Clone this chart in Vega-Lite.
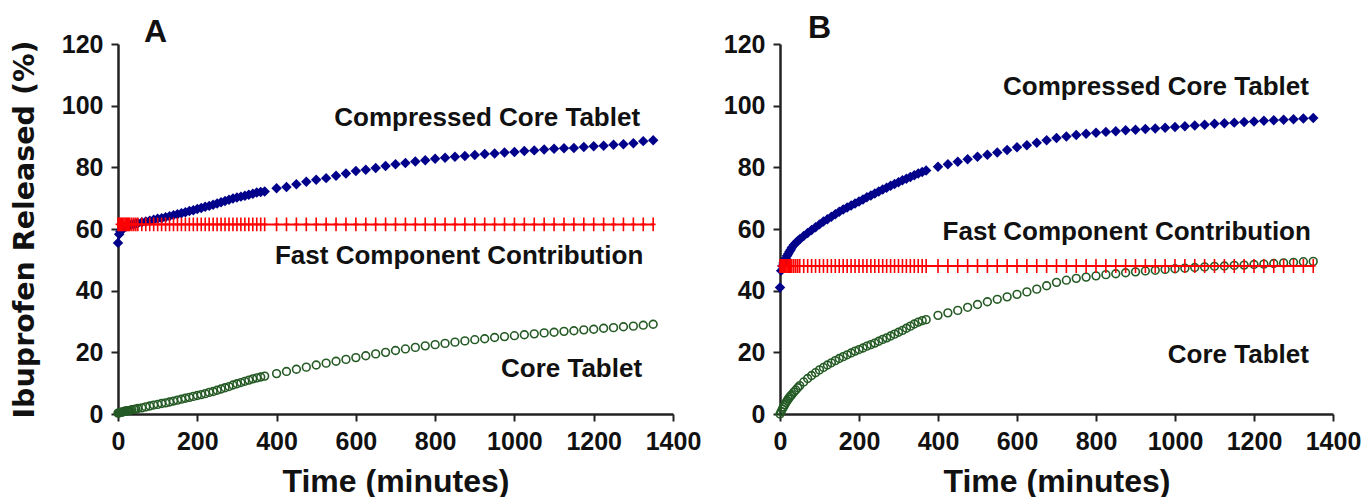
{
 "$schema": "https://vega.github.io/schema/vega-lite/v6.json",
 "autosize": {"type": "pad"},
 "padding": {"left": 10, "top": 12, "right": 5, "bottom": 0},
 "background": "white",
 "config": {
  "view": {"stroke": null},
  "axis": {"labelFont": "Liberation Sans", "labelFontWeight": "bold", "labelFontSize": 25, "labelColor": "#111", "titleFont": "Liberation Sans", "titleFontWeight": "bold", "titleColor": "#111", "domainColor": "#222", "domainWidth": 2.5, "tickColor": "#222", "tickWidth": 2, "tickSize": 7, "labelPadding": 8, "grid": false, "labelFlush": false, "labelOverlap": false, "format": "d"},
  "text": {"font": "Liberation Sans", "fontWeight": "bold", "fontSize": 26, "color": "#111"}
 },
 "datasets": {
  "one": [{"k": 1}],
  "acc": [{"t":0,"v":55.5},{"t":3,"v":58.3},{"t":6,"v":59.2},{"t":9,"v":59.8},{"t":12,"v":60.2},{"t":15,"v":60.5},{"t":18,"v":60.7},{"t":21,"v":60.9},{"t":24,"v":61.0},{"t":27,"v":61.1},{"t":30,"v":61.3},{"t":35,"v":61.5},{"t":40,"v":61.6},{"t":45,"v":61.8},{"t":50,"v":61.9},{"t":60,"v":62.2},{"t":70,"v":62.4},{"t":80,"v":62.7},{"t":90,"v":63.0},{"t":100,"v":63.3},{"t":110,"v":63.5},{"t":120,"v":63.8},{"t":130,"v":64.1},{"t":140,"v":64.5},{"t":150,"v":64.8},{"t":160,"v":65.1},{"t":170,"v":65.4},{"t":180,"v":65.8},{"t":190,"v":66.1},{"t":200,"v":66.5},{"t":210,"v":66.8},{"t":220,"v":67.2},{"t":230,"v":67.5},{"t":240,"v":67.9},{"t":250,"v":68.3},{"t":260,"v":68.7},{"t":270,"v":69.1},{"t":280,"v":69.5},{"t":290,"v":69.9},{"t":300,"v":70.2},{"t":310,"v":70.5},{"t":320,"v":70.8},{"t":330,"v":71.1},{"t":340,"v":71.4},{"t":350,"v":71.8},{"t":360,"v":72.0},{"t":370,"v":72.2},{"t":400,"v":73.2},{"t":425,"v":73.6},{"t":450,"v":74.5},{"t":475,"v":75.3},{"t":500,"v":76.0},{"t":525,"v":76.5},{"t":550,"v":77.3},{"t":575,"v":78.0},{"t":600,"v":78.8},{"t":625,"v":79.2},{"t":650,"v":79.8},{"t":675,"v":80.4},{"t":700,"v":81.0},{"t":725,"v":81.4},{"t":750,"v":81.9},{"t":775,"v":82.3},{"t":800,"v":82.8},{"t":825,"v":83.1},{"t":850,"v":83.4},{"t":875,"v":83.7},{"t":900,"v":84.0},{"t":925,"v":84.3},{"t":950,"v":84.5},{"t":975,"v":84.8},{"t":1000,"v":85.0},{"t":1025,"v":85.3},{"t":1050,"v":85.5},{"t":1075,"v":85.8},{"t":1100,"v":86.0},{"t":1125,"v":86.2},{"t":1150,"v":86.3},{"t":1175,"v":86.6},{"t":1200,"v":86.8},{"t":1225,"v":87.0},{"t":1250,"v":87.3},{"t":1275,"v":87.5},{"t":1300,"v":87.8},{"t":1325,"v":88.5},{"t":1350,"v":88.8}],
  "afc": [{"t":0,"v":61.5},{"t":3,"v":61.5},{"t":6,"v":61.5},{"t":9,"v":61.5},{"t":12,"v":61.5},{"t":15,"v":61.5},{"t":18,"v":61.5},{"t":21,"v":61.5},{"t":24,"v":61.5},{"t":27,"v":61.5},{"t":30,"v":61.5},{"t":35,"v":61.5},{"t":40,"v":61.5},{"t":45,"v":61.5},{"t":50,"v":61.5},{"t":60,"v":61.5},{"t":70,"v":61.5},{"t":80,"v":61.5},{"t":90,"v":61.5},{"t":100,"v":61.5},{"t":110,"v":61.5},{"t":120,"v":61.5},{"t":130,"v":61.5},{"t":140,"v":61.5},{"t":150,"v":61.5},{"t":160,"v":61.5},{"t":170,"v":61.5},{"t":180,"v":61.5},{"t":190,"v":61.5},{"t":200,"v":61.5},{"t":210,"v":61.5},{"t":220,"v":61.5},{"t":230,"v":61.5},{"t":240,"v":61.5},{"t":250,"v":61.5},{"t":260,"v":61.5},{"t":270,"v":61.5},{"t":280,"v":61.5},{"t":290,"v":61.5},{"t":300,"v":61.5},{"t":310,"v":61.5},{"t":320,"v":61.5},{"t":330,"v":61.5},{"t":340,"v":61.5},{"t":350,"v":61.5},{"t":360,"v":61.5},{"t":370,"v":61.5},{"t":400,"v":61.5},{"t":425,"v":61.5},{"t":450,"v":61.5},{"t":475,"v":61.5},{"t":500,"v":61.5},{"t":525,"v":61.5},{"t":550,"v":61.5},{"t":575,"v":61.5},{"t":600,"v":61.5},{"t":625,"v":61.5},{"t":650,"v":61.5},{"t":675,"v":61.5},{"t":700,"v":61.5},{"t":725,"v":61.5},{"t":750,"v":61.5},{"t":775,"v":61.5},{"t":800,"v":61.5},{"t":825,"v":61.5},{"t":850,"v":61.5},{"t":875,"v":61.5},{"t":900,"v":61.5},{"t":925,"v":61.5},{"t":950,"v":61.5},{"t":975,"v":61.5},{"t":1000,"v":61.5},{"t":1025,"v":61.5},{"t":1050,"v":61.5},{"t":1075,"v":61.5},{"t":1100,"v":61.5},{"t":1125,"v":61.5},{"t":1150,"v":61.5},{"t":1175,"v":61.5},{"t":1200,"v":61.5},{"t":1225,"v":61.5},{"t":1250,"v":61.5},{"t":1275,"v":61.5},{"t":1300,"v":61.5},{"t":1325,"v":61.5},{"t":1350,"v":61.5}],
  "act": [{"t":0,"v":0.3},{"t":3,"v":0.4},{"t":6,"v":0.5},{"t":9,"v":0.6},{"t":12,"v":0.7},{"t":15,"v":0.8},{"t":18,"v":0.9},{"t":21,"v":1.0},{"t":24,"v":1.1},{"t":27,"v":1.1},{"t":30,"v":1.2},{"t":35,"v":1.4},{"t":40,"v":1.5},{"t":45,"v":1.6},{"t":50,"v":1.8},{"t":60,"v":2.0},{"t":70,"v":2.3},{"t":80,"v":2.6},{"t":90,"v":2.9},{"t":100,"v":3.1},{"t":110,"v":3.4},{"t":120,"v":3.6},{"t":130,"v":3.9},{"t":140,"v":4.2},{"t":150,"v":4.5},{"t":160,"v":4.8},{"t":170,"v":5.1},{"t":180,"v":5.4},{"t":190,"v":5.7},{"t":200,"v":6.0},{"t":210,"v":6.3},{"t":220,"v":6.6},{"t":230,"v":7.0},{"t":240,"v":7.3},{"t":250,"v":7.7},{"t":260,"v":8.1},{"t":270,"v":8.5},{"t":280,"v":8.9},{"t":290,"v":9.4},{"t":300,"v":9.8},{"t":310,"v":10.2},{"t":320,"v":10.6},{"t":330,"v":11.0},{"t":340,"v":11.4},{"t":350,"v":11.7},{"t":360,"v":12.0},{"t":370,"v":12.3},{"t":400,"v":13.1},{"t":425,"v":13.8},{"t":450,"v":14.5},{"t":475,"v":15.2},{"t":500,"v":15.9},{"t":525,"v":16.5},{"t":550,"v":17.1},{"t":575,"v":17.7},{"t":600,"v":18.3},{"t":625,"v":18.9},{"t":650,"v":19.5},{"t":675,"v":20.0},{"t":700,"v":20.6},{"t":725,"v":21.1},{"t":750,"v":21.6},{"t":775,"v":22.1},{"t":800,"v":22.5},{"t":825,"v":22.9},{"t":850,"v":23.3},{"t":875,"v":23.7},{"t":900,"v":24.1},{"t":925,"v":24.4},{"t":950,"v":24.8},{"t":975,"v":25.1},{"t":1000,"v":25.4},{"t":1025,"v":25.7},{"t":1050,"v":26.0},{"t":1075,"v":26.3},{"t":1100,"v":26.5},{"t":1125,"v":26.8},{"t":1150,"v":27.0},{"t":1175,"v":27.3},{"t":1200,"v":27.5},{"t":1225,"v":27.8},{"t":1250,"v":28.0},{"t":1275,"v":28.3},{"t":1300,"v":28.5},{"t":1325,"v":28.8},{"t":1350,"v":29.1}],
  "bcc": [{"t":0,"v":41.0},{"t":3,"v":46.5},{"t":6,"v":48.0},{"t":9,"v":49.0},{"t":12,"v":49.8},{"t":15,"v":50.5},{"t":18,"v":51.3},{"t":21,"v":52.0},{"t":24,"v":52.7},{"t":27,"v":53.3},{"t":30,"v":54.0},{"t":35,"v":54.8},{"t":40,"v":55.5},{"t":45,"v":56.1},{"t":50,"v":56.7},{"t":60,"v":57.7},{"t":70,"v":58.7},{"t":80,"v":59.7},{"t":90,"v":60.6},{"t":100,"v":61.5},{"t":110,"v":62.4},{"t":120,"v":63.2},{"t":130,"v":64.0},{"t":140,"v":64.8},{"t":150,"v":65.6},{"t":160,"v":66.3},{"t":170,"v":67.0},{"t":180,"v":67.6},{"t":190,"v":68.3},{"t":200,"v":68.9},{"t":210,"v":69.6},{"t":220,"v":70.3},{"t":230,"v":70.9},{"t":240,"v":71.5},{"t":250,"v":72.2},{"t":260,"v":72.8},{"t":270,"v":73.4},{"t":280,"v":74.0},{"t":290,"v":74.6},{"t":300,"v":75.2},{"t":310,"v":75.8},{"t":320,"v":76.3},{"t":330,"v":76.9},{"t":340,"v":77.4},{"t":350,"v":78.0},{"t":360,"v":78.5},{"t":370,"v":79.0},{"t":400,"v":80.2},{"t":425,"v":81.0},{"t":450,"v":81.8},{"t":475,"v":82.6},{"t":500,"v":83.4},{"t":525,"v":84.1},{"t":550,"v":84.8},{"t":575,"v":85.6},{"t":600,"v":86.5},{"t":625,"v":87.2},{"t":650,"v":88.0},{"t":675,"v":88.8},{"t":700,"v":89.5},{"t":725,"v":90.0},{"t":750,"v":90.5},{"t":775,"v":90.9},{"t":800,"v":91.2},{"t":825,"v":91.5},{"t":850,"v":91.7},{"t":875,"v":92.0},{"t":900,"v":92.2},{"t":925,"v":92.4},{"t":950,"v":92.6},{"t":975,"v":92.8},{"t":1000,"v":93.1},{"t":1025,"v":93.3},{"t":1050,"v":93.6},{"t":1075,"v":93.8},{"t":1100,"v":94.1},{"t":1125,"v":94.3},{"t":1150,"v":94.5},{"t":1175,"v":94.7},{"t":1200,"v":94.9},{"t":1225,"v":95.1},{"t":1250,"v":95.3},{"t":1275,"v":95.4},{"t":1300,"v":95.6},{"t":1325,"v":95.8},{"t":1350,"v":96.0}],
  "bfc": [{"t":0,"v":48.0},{"t":3,"v":48.0},{"t":6,"v":48.0},{"t":9,"v":48.0},{"t":12,"v":48.0},{"t":15,"v":48.0},{"t":18,"v":48.0},{"t":21,"v":48.0},{"t":24,"v":48.0},{"t":27,"v":48.0},{"t":30,"v":48.0},{"t":35,"v":48.0},{"t":40,"v":48.0},{"t":45,"v":48.0},{"t":50,"v":48.0},{"t":60,"v":48.0},{"t":70,"v":48.0},{"t":80,"v":48.0},{"t":90,"v":48.0},{"t":100,"v":48.0},{"t":110,"v":48.0},{"t":120,"v":48.0},{"t":130,"v":48.0},{"t":140,"v":48.0},{"t":150,"v":48.0},{"t":160,"v":48.0},{"t":170,"v":48.0},{"t":180,"v":48.0},{"t":190,"v":48.0},{"t":200,"v":48.0},{"t":210,"v":48.0},{"t":220,"v":48.0},{"t":230,"v":48.0},{"t":240,"v":48.0},{"t":250,"v":48.0},{"t":260,"v":48.0},{"t":270,"v":48.0},{"t":280,"v":48.0},{"t":290,"v":48.0},{"t":300,"v":48.0},{"t":310,"v":48.0},{"t":320,"v":48.0},{"t":330,"v":48.0},{"t":340,"v":48.0},{"t":350,"v":48.0},{"t":360,"v":48.0},{"t":370,"v":48.0},{"t":400,"v":48.0},{"t":425,"v":48.0},{"t":450,"v":48.0},{"t":475,"v":48.0},{"t":500,"v":48.0},{"t":525,"v":48.0},{"t":550,"v":48.0},{"t":575,"v":48.0},{"t":600,"v":48.0},{"t":625,"v":48.0},{"t":650,"v":48.0},{"t":675,"v":48.0},{"t":700,"v":48.0},{"t":725,"v":48.0},{"t":750,"v":48.0},{"t":775,"v":48.0},{"t":800,"v":48.0},{"t":825,"v":48.0},{"t":850,"v":48.0},{"t":875,"v":48.0},{"t":900,"v":48.0},{"t":925,"v":48.0},{"t":950,"v":48.0},{"t":975,"v":48.0},{"t":1000,"v":48.0},{"t":1025,"v":48.0},{"t":1050,"v":48.0},{"t":1075,"v":48.0},{"t":1100,"v":48.0},{"t":1125,"v":48.0},{"t":1150,"v":48.0},{"t":1175,"v":48.0},{"t":1200,"v":48.0},{"t":1225,"v":48.0},{"t":1250,"v":48.0},{"t":1275,"v":48.0},{"t":1300,"v":48.0},{"t":1325,"v":48.0},{"t":1350,"v":48.0}],
  "bct": [{"t":0,"v":0.0},{"t":3,"v":0.8},{"t":6,"v":1.6},{"t":9,"v":2.3},{"t":12,"v":3.0},{"t":15,"v":3.7},{"t":18,"v":4.3},{"t":21,"v":4.9},{"t":24,"v":5.4},{"t":27,"v":5.9},{"t":30,"v":6.3},{"t":35,"v":7.1},{"t":40,"v":7.8},{"t":45,"v":8.5},{"t":50,"v":9.2},{"t":60,"v":10.4},{"t":70,"v":11.5},{"t":80,"v":12.5},{"t":90,"v":13.4},{"t":100,"v":14.3},{"t":110,"v":15.1},{"t":120,"v":15.9},{"t":130,"v":16.6},{"t":140,"v":17.3},{"t":150,"v":18.0},{"t":160,"v":18.6},{"t":170,"v":19.2},{"t":180,"v":19.8},{"t":190,"v":20.4},{"t":200,"v":20.9},{"t":210,"v":21.4},{"t":220,"v":22.0},{"t":230,"v":22.5},{"t":240,"v":23.0},{"t":250,"v":23.6},{"t":260,"v":24.2},{"t":270,"v":24.7},{"t":280,"v":25.3},{"t":290,"v":25.9},{"t":300,"v":26.5},{"t":310,"v":27.1},{"t":320,"v":27.8},{"t":330,"v":28.5},{"t":340,"v":29.2},{"t":350,"v":29.8},{"t":360,"v":30.3},{"t":370,"v":30.6},{"t":400,"v":32.0},{"t":425,"v":32.8},{"t":450,"v":33.6},{"t":475,"v":34.6},{"t":500,"v":35.5},{"t":525,"v":36.4},{"t":550,"v":37.2},{"t":575,"v":38.0},{"t":600,"v":38.8},{"t":625,"v":39.6},{"t":650,"v":40.5},{"t":675,"v":41.6},{"t":700,"v":42.7},{"t":725,"v":43.4},{"t":750,"v":44.0},{"t":775,"v":44.4},{"t":800,"v":44.8},{"t":825,"v":45.2},{"t":850,"v":45.5},{"t":875,"v":45.8},{"t":900,"v":46.1},{"t":925,"v":46.4},{"t":950,"v":46.6},{"t":975,"v":46.9},{"t":1000,"v":47.1},{"t":1025,"v":47.3},{"t":1050,"v":47.5},{"t":1075,"v":47.7},{"t":1100,"v":47.9},{"t":1125,"v":48.0},{"t":1150,"v":48.2},{"t":1175,"v":48.3},{"t":1200,"v":48.5},{"t":1225,"v":48.6},{"t":1250,"v":48.8},{"t":1275,"v":49.0},{"t":1300,"v":49.2},{"t":1325,"v":49.4},{"t":1350,"v":49.5}]
 },
 "spacing": 107,
 "bounds": "flush",
 "hconcat": [
  {
   "width": 555, "height": 370,
   "layer": [
    {"data": {"name": "acc"}, "mark": {"type": "point", "shape": "diamond", "filled": true, "size": 110, "color": "#00008b", "opacity": 1},
     "encoding": {
      "x": {"field": "t", "type": "quantitative", "scale": {"domain": [0, 1400], "nice": false}, "axis": {"values": [0, 200, 400, 600, 800, 1000, 1200, 1400], "title": "Time (minutes)", "titleFontSize": 32, "titlePadding": 12}},
      "y": {"field": "v", "type": "quantitative", "scale": {"domain": [0, 120], "nice": false}, "axis": {"values": [0, 20, 40, 60, 80, 100, 120], "title": "Ibuprofen Released (%)", "titleFont": "DejaVu Sans", "titleFontSize": 28.5, "titlePadding": 22}}
     }},
    {"data": {"name": "act"}, "mark": {"type": "point", "shape": "circle", "filled": false, "size": 60, "strokeWidth": 1.6, "color": "#245a24", "opacity": 1},
     "encoding": {"x": {"field": "t", "type": "quantitative"}, "y": {"field": "v", "type": "quantitative"}}},
    {"data": {"name": "afc"}, "mark": {"type": "line", "color": "#ff0000", "strokeWidth": 2},
     "encoding": {"x": {"field": "t", "type": "quantitative"}, "y": {"field": "v", "type": "quantitative"}}},
    {"data": {"name": "afc"}, "mark": {"type": "point", "shape": "M0,-1V1M-0.35,0H0.35", "filled": false, "size": 190, "strokeWidth": 1.6, "color": "#ff0000", "opacity": 1},
     "encoding": {"x": {"field": "t", "type": "quantitative"}, "y": {"field": "v", "type": "quantitative"}}},
    {"data": {"name": "one"}, "mark": {"type": "text", "align": "right", "baseline": "alphabetic", "text": "Compressed Core Tablet"}, "encoding": {"x": {"datum": 1317}, "y": {"datum": 93.4}}},
    {"data": {"name": "one"}, "mark": {"type": "text", "align": "right", "baseline": "alphabetic", "text": "Fast Component Contribution"}, "encoding": {"x": {"datum": 1325}, "y": {"datum": 48.7}}},
    {"data": {"name": "one"}, "mark": {"type": "text", "align": "right", "baseline": "alphabetic", "text": "Core Tablet"}, "encoding": {"x": {"datum": 1322}, "y": {"datum": 12.0}}},
    {"data": {"name": "one"}, "mark": {"type": "text", "align": "center", "baseline": "alphabetic", "text": "A", "fontSize": 32}, "encoding": {"x": {"datum": 95}, "y": {"datum": 120.8}}}
   ]
  },
  {
   "width": 553, "height": 370,
   "layer": [
    {"data": {"name": "bcc"}, "mark": {"type": "point", "shape": "diamond", "filled": true, "size": 110, "color": "#00008b", "opacity": 1},
     "encoding": {
      "x": {"field": "t", "type": "quantitative", "scale": {"domain": [0, 1400], "nice": false}, "axis": {"values": [0, 200, 400, 600, 800, 1000, 1200, 1400], "title": "Time (minutes)", "titleFontSize": 32, "titlePadding": 12}},
      "y": {"field": "v", "type": "quantitative", "scale": {"domain": [0, 120], "nice": false}, "axis": {"values": [0, 20, 40, 60, 80, 100, 120], "title": null}}
     }},
    {"data": {"name": "bct"}, "mark": {"type": "point", "shape": "circle", "filled": false, "size": 60, "strokeWidth": 1.6, "color": "#245a24", "opacity": 1},
     "encoding": {"x": {"field": "t", "type": "quantitative"}, "y": {"field": "v", "type": "quantitative"}}},
    {"data": {"name": "bfc"}, "mark": {"type": "line", "color": "#ff0000", "strokeWidth": 2},
     "encoding": {"x": {"field": "t", "type": "quantitative"}, "y": {"field": "v", "type": "quantitative"}}},
    {"data": {"name": "bfc"}, "mark": {"type": "point", "shape": "M0,-1V1M-0.35,0H0.35", "filled": false, "size": 190, "strokeWidth": 1.6, "color": "#ff0000", "opacity": 1},
     "encoding": {"x": {"field": "t", "type": "quantitative"}, "y": {"field": "v", "type": "quantitative"}}},
    {"data": {"name": "one"}, "mark": {"type": "text", "align": "right", "baseline": "alphabetic", "text": "Compressed Core Tablet"}, "encoding": {"x": {"datum": 1339}, "y": {"datum": 103.3}}},
    {"data": {"name": "one"}, "mark": {"type": "text", "align": "right", "baseline": "alphabetic", "text": "Fast Component Contribution"}, "encoding": {"x": {"datum": 1344}, "y": {"datum": 56.4}}},
    {"data": {"name": "one"}, "mark": {"type": "text", "align": "right", "baseline": "alphabetic", "text": "Core Tablet"}, "encoding": {"x": {"datum": 1339}, "y": {"datum": 16.4}}},
    {"data": {"name": "one"}, "mark": {"type": "text", "align": "center", "baseline": "alphabetic", "text": "B", "fontSize": 32}, "encoding": {"x": {"datum": 100}, "y": {"datum": 121.8}}}
   ]
  }
 ]
}
